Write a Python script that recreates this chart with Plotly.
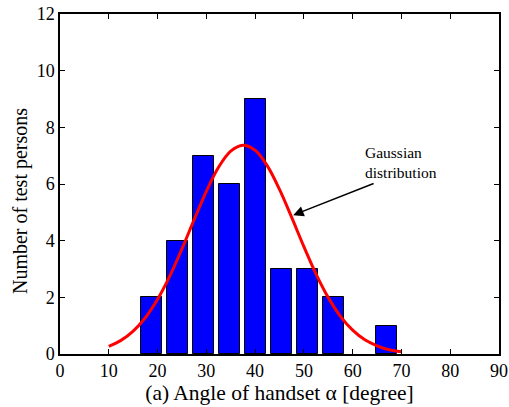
import plotly.graph_objects as go

# Histogram bins (centres, degrees) and counts
bin_centers = [18.7, 24.05, 29.4, 34.75, 40.1, 45.45, 50.8, 56.15, 61.5, 66.85]
counts = [2, 4, 7, 6, 9, 3, 3, 2, 0, 1]

# Gaussian fit curve points
curve_x = [10, 12.5, 15, 17.5, 20, 22.5, 25, 27.5, 30, 32.5, 35, 37.5, 40,
           42.5, 45, 47.5, 50, 52.5, 55, 57.5, 60, 62.5, 65, 67.5, 70]
curve_y = [0.27, 0.48, 0.81, 1.28, 1.93, 2.75, 3.71, 4.74, 5.74, 6.59, 7.16, 7.37, 7.19,
           6.64, 5.81, 4.82, 3.79, 2.82, 1.99, 1.33, 0.84, 0.50, 0.29, 0.15, 0.08]

xticks = [0, 10, 20, 30, 40, 50, 60, 70, 80, 90]
yticks = [0, 2, 4, 6, 8, 10, 12]

FONT = "Liberation Serif, Times New Roman, serif"

fig = go.Figure()
fig.add_trace(go.Bar(
    x=bin_centers, y=counts, width=4.3,
    marker=dict(color="#0000FF",
                line=dict(color="black", width=[1 if c > 0 else 0 for c in counts])),
    showlegend=False,
))
fig.add_trace(go.Scatter(
    x=curve_x, y=curve_y, mode="lines",
    line=dict(color="#FF0000", width=3, shape="spline", smoothing=1),
    showlegend=False,
))

fig.add_annotation(
    x=47.8, y=4.9, ax=64.6, ay=6.04, xref="x", yref="y", axref="x", ayref="y",
    text="", showarrow=True, arrowhead=2, arrowsize=1.4, arrowwidth=1.5,
    arrowcolor="black",
)
fig.add_annotation(
    x=70.0, y=6.75, xref="x", yref="y",
    text="Gaussian<br>distribution", showarrow=False,
    font=dict(family=FONT, size=15.5, color="black"), align="left",
)
# y-axis title placed as rotated text
fig.add_annotation(
    x=-0.0911, y=0.45, xref="paper", yref="paper",
    text="Number of test persons", showarrow=False, textangle=-90,
    xanchor="center", yanchor="middle",
    font=dict(family=FONT, size=20, color="black"),
)

axis_common = dict(
    showline=True, linecolor="black", linewidth=1.5, mirror="ticks",
    ticks="inside", ticklen=5, tickwidth=1, tickcolor="black",
    showgrid=False, zeroline=False, automargin=False,
    tickfont=dict(family=FONT, size=18, color="black"),
)

fig.update_layout(
    width=509, height=407,
    margin=dict(l=60, r=10, t=14, b=53),
    plot_bgcolor="white", paper_bgcolor="white",
    bargap=0,
    xaxis=dict(range=[0, 90], tickvals=xticks, ticktext=[str(v) for v in xticks],
               title=dict(text="(a) Angle of handset α [degree]",
                          font=dict(family=FONT, size=21.5, color="black"), standoff=4),
               **axis_common),
    yaxis=dict(range=[0, 12], tickvals=yticks, ticktext=[str(v) for v in yticks],
               **axis_common),
)

fig.write_html("out.html")
